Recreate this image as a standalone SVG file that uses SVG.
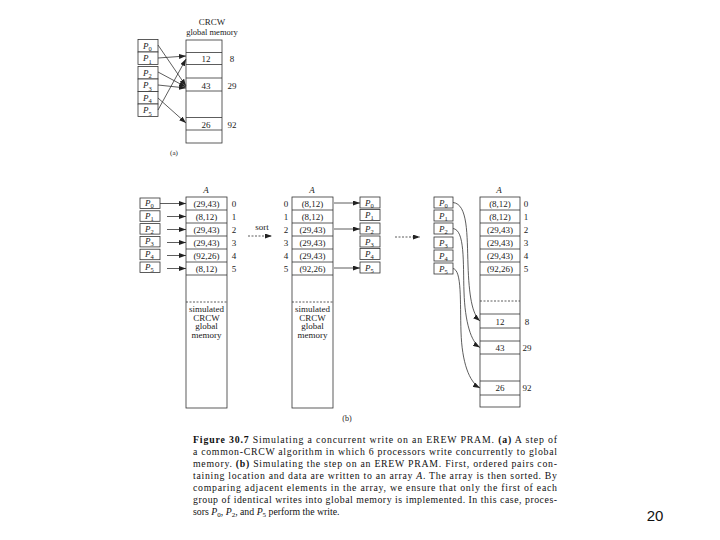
<svg xmlns="http://www.w3.org/2000/svg" width="720" height="540" viewBox="0 0 720 540">
<style>
.box{fill:#fff;stroke:#333;stroke-width:0.8}
.col{fill:none;stroke:#333;stroke-width:0.8}
.ln{stroke:#333;stroke-width:0.8;fill:none}
.dash{stroke-dasharray:2 1.5}
.t{font-family:"Liberation Serif",serif;font-size:9px;fill:#222;text-anchor:middle}
.p{font-family:"Liberation Serif",serif;font-size:9px;fill:#222;font-style:italic}
.sub{font-size:6.5px;font-style:normal}
.cap{font-family:"Liberation Serif",serif;font-size:9.8px;fill:#111}
.b{font-weight:bold}
.i{font-style:italic}
</style>
<defs>
<marker id="ah" markerWidth="7" markerHeight="5" refX="7" refY="2.5" orient="auto" markerUnits="userSpaceOnUse">
<path d="M0,0 L7,2.5 L0,5 z" fill="#222"/>
</marker>
</defs>
<rect width="720" height="540" fill="#fff"/>

<!-- Part (a) -->
<g id="a-procs">
<g id="a-P0"><rect class="box" x="138" y="39.5" width="20" height="12.5"/><text class="p" x="143" y="48.5">P<tspan class="sub" dy="2.5">0</tspan></text></g>
<g id="a-P1"><rect class="box" x="138" y="52" width="20" height="12.5"/><text class="p" x="143" y="61">P<tspan class="sub" dy="2.5">1</tspan></text></g>
<g id="a-P2"><rect class="box" x="138" y="66.5" width="20" height="12.5"/><text class="p" x="143" y="75.5">P<tspan class="sub" dy="2.5">2</tspan></text></g>
<g id="a-P3"><rect class="box" x="138" y="79" width="20" height="12.5"/><text class="p" x="143" y="88">P<tspan class="sub" dy="2.5">3</tspan></text></g>
<g id="a-P4"><rect class="box" x="138" y="91.5" width="20" height="12.5"/><text class="p" x="143" y="100.5">P<tspan class="sub" dy="2.5">4</tspan></text></g>
<g id="a-P5"><rect class="box" x="138" y="104" width="20" height="12.5"/><text class="p" x="143" y="113">P<tspan class="sub" dy="2.5">5</tspan></text></g>
</g>
<g id="a-memory">
<text class="t" x="212" y="25">CRCW</text>
<text class="t" x="212" y="35" style="font-size:8.5px">global memory</text>
<rect class="col" x="186" y="40" width="36" height="103"/>
<path class="ln" d="M186,52.5H222M186,64.5H222M186,78H222M186,91H222M186,117.5H222M186,130H222"/>
<text class="t" x="206" y="62">12</text><text class="t" x="232" y="62">8</text>
<text class="t" x="206" y="88.5">43</text><text class="t" x="232" y="88.5">29</text>
<text class="t" x="206" y="128">26</text><text class="t" x="232" y="128">92</text>
</g>
<text class="t" x="174" y="155" style="font-size:7px">(a)</text>

<!-- Part (b) left -->
<g id="b1-procs">
<g id="b1-P0"><rect class="box" x="140" y="198" width="20" height="10.5"/><text class="p" x="145" y="206">P<tspan class="sub" dy="2">0</tspan></text></g>
<g id="b1-P1"><rect class="box" x="140" y="210.8" width="20" height="10.5"/><text class="p" x="145" y="218.8">P<tspan class="sub" dy="2">1</tspan></text></g>
<g id="b1-P2"><rect class="box" x="140" y="223.6" width="20" height="10.5"/><text class="p" x="145" y="231.6">P<tspan class="sub" dy="2">2</tspan></text></g>
<g id="b1-P3"><rect class="box" x="140" y="236.4" width="20" height="10.5"/><text class="p" x="145" y="244.4">P<tspan class="sub" dy="2">3</tspan></text></g>
<g id="b1-P4"><rect class="box" x="140" y="249.2" width="20" height="10.5"/><text class="p" x="145" y="257.2">P<tspan class="sub" dy="2">4</tspan></text></g>
<g id="b1-P5"><rect class="box" x="140" y="262" width="20" height="10.5"/><text class="p" x="145" y="270">P<tspan class="sub" dy="2">5</tspan></text></g>
</g>
<g id="b1-array">
<text class="t i" x="206" y="193">A</text>
<rect class="col" x="186" y="197" width="41" height="211"/>
<path class="ln" d="M186,210H227M186,223H227M186,236H227M186,249H227M186,262H227M186,275H227"/>
<path class="ln dash" d="M186,302H227"/>
<text class="t" x="206.5" y="206.5">(29,43)</text><text class="t" x="234" y="206.5">0</text>
<text class="t" x="206.5" y="219.5">(8,12)</text><text class="t" x="234" y="219.5">1</text>
<text class="t" x="206.5" y="232.5">(29,43)</text><text class="t" x="234" y="232.5">2</text>
<text class="t" x="206.5" y="245.5">(29,43)</text><text class="t" x="234" y="245.5">3</text>
<text class="t" x="206.5" y="258.5">(92,26)</text><text class="t" x="234" y="258.5">4</text>
<text class="t" x="206.5" y="271.5">(8,12)</text><text class="t" x="234" y="271.5">5</text>
<text class="t" x="206.5" y="312">simulated</text>
<text class="t" x="206.5" y="320.5">CRCW</text>
<text class="t" x="206.5" y="329">global</text>
<text class="t" x="206.5" y="337.5">memory</text>
</g>
<text class="t" x="262" y="230">sort</text>

<!-- Part (b) middle -->
<g id="b2-array">
<text class="t i" x="312" y="193">A</text>
<rect class="col" x="292" y="197" width="41" height="211"/>
<path class="ln" d="M292,210H333M292,223H333M292,236H333M292,249H333M292,262H333M292,275H333"/>
<path class="ln dash" d="M292,302H333"/>
<text class="t" x="286" y="206.5">0</text><text class="t" x="312.5" y="206.5">(8,12)</text>
<text class="t" x="286" y="219.5">1</text><text class="t" x="312.5" y="219.5">(8,12)</text>
<text class="t" x="286" y="232.5">2</text><text class="t" x="312.5" y="232.5">(29,43)</text>
<text class="t" x="286" y="245.5">3</text><text class="t" x="312.5" y="245.5">(29,43)</text>
<text class="t" x="286" y="258.5">4</text><text class="t" x="312.5" y="258.5">(29,43)</text>
<text class="t" x="286" y="271.5">5</text><text class="t" x="312.5" y="271.5">(92,26)</text>
<text class="t" x="312.5" y="312">simulated</text>
<text class="t" x="312.5" y="320.5">CRCW</text>
<text class="t" x="312.5" y="329">global</text>
<text class="t" x="312.5" y="337.5">memory</text>
</g>
<g id="b2-procs">
<g id="b2-P0"><rect class="box" x="360" y="197" width="20" height="11"/><text class="p" x="365" y="205.5">P<tspan class="sub" dy="2">0</tspan></text></g>
<g id="b2-P1"><rect class="box" x="360" y="209.5" width="20" height="11"/><text class="p" x="365" y="218">P<tspan class="sub" dy="2">1</tspan></text></g>
<g id="b2-P2"><rect class="box" x="360" y="223" width="20" height="11"/><text class="p" x="365" y="231.5">P<tspan class="sub" dy="2">2</tspan></text></g>
<g id="b2-P3"><rect class="box" x="360" y="236" width="20" height="11"/><text class="p" x="365" y="244.5">P<tspan class="sub" dy="2">3</tspan></text></g>
<g id="b2-P4"><rect class="box" x="360" y="248.5" width="20" height="11"/><text class="p" x="365" y="257">P<tspan class="sub" dy="2">4</tspan></text></g>
<g id="b2-P5"><rect class="box" x="360" y="262" width="20" height="11"/><text class="p" x="365" y="270.5">P<tspan class="sub" dy="2">5</tspan></text></g>
</g>

<!-- Part (b) right -->
<g id="b3-procs">
<g id="b3-P0"><rect class="box" x="434" y="197" width="19" height="11"/><text class="p" x="439" y="205.5">P<tspan class="sub" dy="2">0</tspan></text></g>
<g id="b3-P1"><rect class="box" x="434" y="210" width="19" height="11"/><text class="p" x="439" y="218.5">P<tspan class="sub" dy="2">1</tspan></text></g>
<g id="b3-P2"><rect class="box" x="434" y="223" width="19" height="11"/><text class="p" x="439" y="231.5">P<tspan class="sub" dy="2">2</tspan></text></g>
<g id="b3-P3"><rect class="box" x="434" y="237" width="19" height="11"/><text class="p" x="439" y="245.5">P<tspan class="sub" dy="2">3</tspan></text></g>
<g id="b3-P4"><rect class="box" x="434" y="250" width="19" height="11"/><text class="p" x="439" y="258.5">P<tspan class="sub" dy="2">4</tspan></text></g>
<g id="b3-P5"><rect class="box" x="434" y="263" width="19" height="11"/><text class="p" x="439" y="271.5">P<tspan class="sub" dy="2">5</tspan></text></g>
</g>
<g id="b3-array">
<text class="t i" x="499" y="193">A</text>
<rect class="col" x="480" y="197" width="40" height="210"/>
<path class="ln" d="M480,210H520M480,223H520M480,236H520M480,249H520M480,262H520M480,275H520M480,314H520M480,328H520M480,341H520M480,354H520M480,381H520M480,395H520"/>
<path class="ln dash" d="M480,301H520"/>
<text class="t" x="500" y="206.5">(8,12)</text><text class="t" x="526" y="206.5">0</text>
<text class="t" x="500" y="219.5">(8,12)</text><text class="t" x="526" y="219.5">1</text>
<text class="t" x="500" y="232.5">(29,43)</text><text class="t" x="526" y="232.5">2</text>
<text class="t" x="500" y="245.5">(29,43)</text><text class="t" x="526" y="245.5">3</text>
<text class="t" x="500" y="258.5">(29,43)</text><text class="t" x="526" y="258.5">4</text>
<text class="t" x="500" y="271.5">(92,26)</text><text class="t" x="526" y="271.5">5</text>
<text class="t" x="500" y="324.5">12</text><text class="t" x="527" y="324.5">8</text>
<text class="t" x="500" y="351">43</text><text class="t" x="527" y="351">29</text>
<text class="t" x="500" y="391">26</text><text class="t" x="527" y="391">92</text>
</g>
<text class="t" x="347" y="421" style="font-size:8px">(b)</text>

<!-- Connectors -->
<g id="connectors" class="ln">
<path d="M158,45L186,86" marker-end="url(#ah)"/>
<path d="M158,58L186,56" marker-end="url(#ah)"/>
<path d="M158,72L186,87" marker-end="url(#ah)"/>
<path d="M158,85L186,88" marker-end="url(#ah)"/>
<path d="M158,98L186,123" marker-end="url(#ah)"/>
<path d="M158,110L186,59" marker-end="url(#ah)"/>

<path d="M160,203.5H186" marker-end="url(#ah)"/>
<path d="M167,216.5H186" marker-end="url(#ah)"/>
<path d="M167,229.5H186" marker-end="url(#ah)"/>
<path d="M167,242.5H186" marker-end="url(#ah)"/>
<path d="M167,255.5H186" marker-end="url(#ah)"/>
<path d="M167,268.5H186" marker-end="url(#ah)"/>

<path class="dash" d="M248,236H272" marker-end="url(#ah)"/>

<path d="M334,203H360" marker-end="url(#ah)"/>
<path d="M334,229H360" marker-end="url(#ah)"/>
<path d="M334,268H360" marker-end="url(#ah)"/>

<path class="dash" d="M395,237H420" marker-end="url(#ah)"/>

<path d="M453,202.5C468,204 467,235 468,265S472,314 480,321" marker-end="url(#ah)"/>
<path d="M453,228.5C465,230 463,262 464,292S471,342 480,347.5" marker-end="url(#ah)"/>
<path d="M453,268.5C462,270 460,302 461,332S469,382 480,388" marker-end="url(#ah)"/>
</g>

<!-- Caption -->
<g id="caption" class="cap">
<text x="193" y="443" textLength="364" lengthAdjust="spacing"><tspan class="b">Figure 30.7</tspan>   Simulating a concurrent write on an EREW PRAM.  <tspan class="b">(a)</tspan> A step of</text>
<text x="193" y="455" textLength="364" lengthAdjust="spacing">a common-CRCW algorithm in which 6 processors write concurrently to global</text>
<text x="193" y="467" textLength="364" lengthAdjust="spacing">memory. <tspan class="b">(b)</tspan> Simulating the step on an EREW PRAM. First, ordered pairs con-</text>
<text x="193" y="479" textLength="364" lengthAdjust="spacing">taining location and data are written to an array <tspan class="i">A</tspan>. The array is then sorted. By</text>
<text x="193" y="491" textLength="364" lengthAdjust="spacing">comparing adjacent elements in the array, we ensure that only the first of each</text>
<text x="193" y="503" textLength="364" lengthAdjust="spacing">group of identical writes into global memory is implemented. In this case, proces-</text>
<text x="193" y="515">sors <tspan class="i">P</tspan><tspan font-size="7" dy="2">0</tspan><tspan dy="-2">, </tspan><tspan class="i">P</tspan><tspan font-size="7" dy="2">2</tspan><tspan dy="-2">, and </tspan><tspan class="i">P</tspan><tspan font-size="7" dy="2">5</tspan><tspan dy="-2"> perform the write.</tspan></text>
</g>

<text x="655" y="521" style="font-family:'Liberation Sans',sans-serif;font-size:15px;fill:#111;text-anchor:middle">20</text>
</svg>
